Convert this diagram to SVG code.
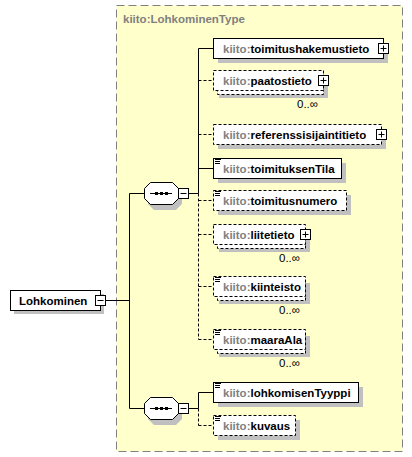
<svg xmlns="http://www.w3.org/2000/svg" width="412" height="457" viewBox="0 0 412 457">
<defs>
<style>
.t{font-family:"Liberation Sans",Arial,sans-serif;font-size:11.5px;font-weight:bold;fill:#000}
.ns{fill:#808080}
.occ{font-family:"Liberation Sans",Arial,sans-serif;font-size:11.5px;fill:#000;text-anchor:end}
.box{fill:#fff;stroke:#000;stroke-width:1}
.opt{fill:#fff;stroke:#000;stroke-width:1;stroke-dasharray:3,2}
.sh{fill:#c0c0c0}
.ln{stroke:#000;stroke-width:1;fill:none}
.dl{stroke:#000;stroke-width:1;fill:none;stroke-dasharray:3,2}
.ic{stroke:#000;stroke-width:1}
</style>
</defs>
<rect width="412" height="457" fill="#fff"/>
<g id="type">
<rect x="116.5" y="5.5" width="286" height="446" fill="#ffffcc" stroke="#808080" stroke-dasharray="8,4"/>
<text x="123" y="23" class="t ns">kiito:LohkominenType</text>
</g>
<g id="connectors">
<line x1="106" y1="300.5" x2="129.5" y2="300.5" class="ln"/>
<line x1="129.5" y1="193.5" x2="129.5" y2="408.5" class="ln"/>
<line x1="129.5" y1="193.5" x2="144" y2="193.5" class="ln"/>
<line x1="129.5" y1="408.5" x2="144" y2="408.5" class="ln"/>
<line x1="188" y1="193.5" x2="198.5" y2="193.5" class="ln"/>
<line x1="198.5" y1="48.5" x2="198.5" y2="193.5" class="ln"/>
<line x1="198.5" y1="193.5" x2="198.5" y2="339.5" class="dl"/>
<line x1="198.5" y1="48.5" x2="213" y2="48.5" class="ln"/>
<line x1="198.5" y1="80.5" x2="213" y2="80.5" class="dl"/>
<line x1="198.5" y1="134.5" x2="213" y2="134.5" class="dl"/>
<line x1="198.5" y1="168.5" x2="213" y2="168.5" class="ln"/>
<line x1="198.5" y1="200.5" x2="213" y2="200.5" class="dl"/>
<line x1="198.5" y1="234.5" x2="213" y2="234.5" class="dl"/>
<line x1="198.5" y1="286.5" x2="213" y2="286.5" class="dl"/>
<line x1="198.5" y1="339.5" x2="213" y2="339.5" class="dl"/>
<line x1="188" y1="408.5" x2="198.5" y2="408.5" class="ln"/>
<line x1="198.5" y1="392.5" x2="198.5" y2="408.5" class="ln"/>
<line x1="198.5" y1="408.5" x2="198.5" y2="425.5" class="dl"/>
<line x1="198.5" y1="392.5" x2="213" y2="392.5" class="ln"/>
<line x1="198.5" y1="425.5" x2="213" y2="425.5" class="dl"/>
</g>
<g id="Lohkominen">
<rect x="14" y="294" width="90" height="20" class="sh"/>
<rect x="10.5" y="290.5" width="90" height="20" class="box"/>
<text x="19" y="305" class="t">Lohkominen</text>
<rect x="95.5" y="295.5" width="10" height="10" class="box"/>
<line x1="97.5" y1="300.5" x2="103.5" y2="300.5" class="ic"/>
</g>
<g id="seq1">
<polygon points="154,188 176,188 182,194 182,204 176,210 154,210 148,204 148,194" class="sh"/>
<polygon points="150.5,182.5 172.5,182.5 178.5,188.5 178.5,198.5 172.5,204.5 150.5,204.5 144.5,198.5 144.5,188.5" class="box"/>
<line x1="150" y1="193.5" x2="172" y2="193.5" class="ic"/>
<rect x="155" y="192" width="3" height="3"/><rect x="160" y="192" width="3" height="3"/><rect x="165" y="192" width="3" height="3"/>
<rect x="178.5" y="188.5" width="10" height="10" class="box"/>
<line x1="180.5" y1="193.5" x2="186.5" y2="193.5" class="ic"/>
</g>
<g id="seq2">
<polygon points="154,403 176,403 182,409 182,419 176,425 154,425 148,419 148,409" class="sh"/>
<polygon points="150.5,397.5 172.5,397.5 178.5,403.5 178.5,413.5 172.5,419.5 150.5,419.5 144.5,413.5 144.5,403.5" class="box"/>
<line x1="150" y1="408.5" x2="172" y2="408.5" class="ic"/>
<rect x="155" y="407" width="3" height="3"/><rect x="160" y="407" width="3" height="3"/><rect x="165" y="407" width="3" height="3"/>
<rect x="178.5" y="403.5" width="10" height="10" class="box"/>
<line x1="180.5" y1="408.5" x2="186.5" y2="408.5" class="ic"/>
</g>
<g id="toimitushakemustieto">
<rect x="218" y="43" width="170" height="20" class="sh"/>
<rect x="213.5" y="38.5" width="170" height="20" class="box"/>
<text x="223" y="52.5" class="t"><tspan class="ns">kiito:</tspan>toimitushakemustieto</text>
<rect x="378.5" y="43.5" width="10" height="10" class="box"/>
<line x1="380.5" y1="48.5" x2="386.5" y2="48.5" class="ic"/><line x1="383.5" y1="45.5" x2="383.5" y2="51.5" class="ic"/>
</g>
<g id="paatostieto">
<rect x="219" y="77" width="109" height="21" class="sh"/>
<rect x="217.5" y="74.5" width="106" height="20" class="opt"/>
<rect x="213.5" y="70.5" width="110" height="20" class="opt"/>
<text x="223" y="84.5" class="t"><tspan class="ns">kiito:</tspan>paatostieto</text>
<rect x="318.5" y="75.5" width="10" height="10" class="box"/>
<line x1="320.5" y1="80.5" x2="326.5" y2="80.5" class="ic"/><line x1="323.5" y1="77.5" x2="323.5" y2="83.5" class="ic"/>
<text x="318" y="108" class="occ">0..∞</text>
</g>
<g id="referenssisijaintitieto">
<rect x="218" y="129" width="168" height="20" class="sh"/>
<rect x="213.5" y="124.5" width="168" height="20" class="opt"/>
<text x="223" y="138.5" class="t"><tspan class="ns">kiito:</tspan>referenssisijaintitieto</text>
<rect x="376.5" y="129.5" width="10" height="10" class="box"/>
<line x1="378.5" y1="134.5" x2="384.5" y2="134.5" class="ic"/><line x1="381.5" y1="131.5" x2="381.5" y2="137.5" class="ic"/>
</g>
<g id="toimituksenTila">
<rect x="218" y="163" width="128" height="20" class="sh"/>
<rect x="213.5" y="158.5" width="128" height="20" class="box"/>
<path d="M215 159.5h6M215 161.5h5M215 163.5h5" class="ic"/>
<text x="223" y="172.5" class="t"><tspan class="ns">kiito:</tspan>toimituksenTila</text>
</g>
<g id="toimitusnumero">
<rect x="218" y="195" width="133" height="20" class="sh"/>
<rect x="213.5" y="190.5" width="133" height="20" class="opt"/>
<path d="M215 191.5h6M215 193.5h5M215 195.5h5" class="ic"/>
<text x="223" y="204.5" class="t"><tspan class="ns">kiito:</tspan>toimitusnumero</text>
</g>
<g id="liitetieto">
<rect x="219" y="231" width="91" height="21" class="sh"/>
<rect x="217.5" y="228.5" width="88" height="20" class="opt"/>
<rect x="213.5" y="224.5" width="92" height="20" class="opt"/>
<text x="223" y="238.5" class="t"><tspan class="ns">kiito:</tspan>liitetieto</text>
<rect x="300.5" y="229.5" width="10" height="10" class="box"/>
<line x1="302.5" y1="234.5" x2="308.5" y2="234.5" class="ic"/><line x1="305.5" y1="231.5" x2="305.5" y2="237.5" class="ic"/>
<text x="300" y="262" class="occ">0..∞</text>
</g>
<g id="kiinteisto">
<rect x="219" y="283" width="91" height="21" class="sh"/>
<rect x="217.5" y="280.5" width="88" height="20" class="opt"/>
<rect x="213.5" y="276.5" width="92" height="20" class="opt"/>
<path d="M215 277.5h6M215 279.5h5M215 281.5h5" class="ic"/>
<text x="223" y="290.5" class="t"><tspan class="ns">kiito:</tspan>kiinteisto</text>
<text x="300" y="314" class="occ">0..∞</text>
</g>
<g id="maaraAla">
<rect x="219" y="336" width="91" height="21" class="sh"/>
<rect x="217.5" y="333.5" width="88" height="20" class="opt"/>
<rect x="213.5" y="329.5" width="92" height="20" class="opt"/>
<path d="M215 330.5h6M215 332.5h5M215 334.5h5" class="ic"/>
<text x="223" y="343.5" class="t"><tspan class="ns">kiito:</tspan>maaraAla</text>
<text x="300" y="367" class="occ">0..∞</text>
</g>
<g id="lohkomisenTyyppi">
<rect x="218" y="387" width="145" height="20" class="sh"/>
<rect x="213.5" y="382.5" width="145" height="20" class="box"/>
<path d="M215 383.5h6M215 385.5h5M215 387.5h5" class="ic"/>
<text x="223" y="396.5" class="t"><tspan class="ns">kiito:</tspan>lohkomisenTyyppi</text>
</g>
<g id="kuvaus">
<rect x="218" y="420" width="82" height="20" class="sh"/>
<rect x="213.5" y="415.5" width="82" height="20" class="opt"/>
<path d="M215 416.5h6M215 418.5h5M215 420.5h5" class="ic"/>
<text x="223" y="429.5" class="t"><tspan class="ns">kiito:</tspan>kuvaus</text>
</g>
</svg>
